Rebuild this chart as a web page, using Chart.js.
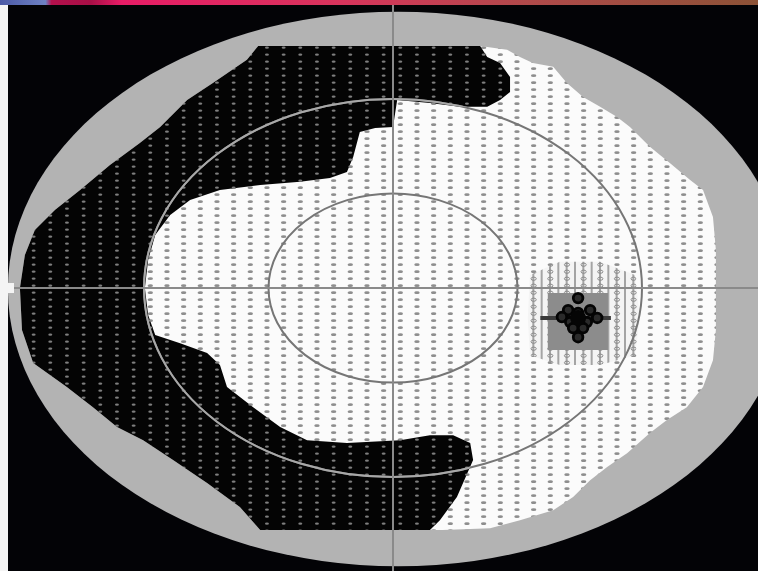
<!DOCTYPE html>
<html>
<head>
<meta charset="utf-8">
<script src="https://cdn.jsdelivr.net/npm/chart.js@4.4.1/dist/chart.umd.min.js"></script>
<style>
html,body{margin:0;padding:0;background:#000;}
#wrap{width:758px;height:571px;position:relative;}
</style>
</head>
<body>
<div id="wrap"><canvas id="field"></canvas></div>
<script>
// visual field plot, values are degrees from fixation
const xRange = [-94.7, 87.95]
const yRange = [-89.8, 91.4]
const crossTicks = [0]
const isopterDeg = [30, 60]
const fieldCenter = [1.2, -0.3]
const fieldRadius = [94, 88]

// outline of the tested area (seen + not seen)
const fieldX = [-32.5, 21.0, 27.5, 30.6, 33.7, 38.6, 41.9, 45.8, 49.9, 54.0, 57.1, 61.9, 66.7, 71.6, 74.7, 77.1, 77.8, 77.8, 77.1, 74.7, 70.8, 66.0, 61.9, 56.4, 51.6, 47.5, 43.4, 38.6, 30.6, 23.4, 12.0, 8.9, -32.0, -36.9, -44.8, -53.0, -60.2, -66.5, -72.3, -78.6, -86.7, -89.4, -89.9, -88.7, -86.3, -81.4, -75.4, -68.2, -61.0, -56.1, -49.6, -43.4, -35.2]
const fieldY = [76.8, 76.8, 75.6, 73.3, 71.4, 70.2, 65.1, 60.6, 57.5, 54.3, 51.1, 44.8, 39.7, 34.3, 31.1, 22.5, 12.1, -13.3, -22.9, -31.4, -37.8, -41.9, -46.0, -52.4, -56.8, -61.0, -66.3, -70.5, -73.7, -76.2, -76.8, -76.8, -76.8, -69.5, -61.9, -54.6, -48.3, -44.1, -37.8, -31.4, -23.8, -13.3, 0, 10.5, 18.4, 24.8, 31.1, 39.0, 46.0, 51.1, 59.7, 65.1, 72.4]

// scotoma (not seen)
const scotomaX = [-32.5, 21.0, 22.7, 25.8, 28.2, 28.2, 25.8, 22.7, 16.1, 8.9, 1.0, 0, -4.3, -8.0, -9.6, -11.1, -15.2, -22.4, -32.0, -41.7, -48.9, -53.7, -57.3, -59.0, -59.8, -59.0, -57.3, -51.3, -44.8, -41.7, -40.0, -33.7, -27.2, -20.7, -11.1, 1.7, 8.9, 14.5, 18.6, 19.3, 15.4, 11.3, 8.9, -32.0, -36.9, -44.8, -53.0, -60.2, -66.5, -72.3, -78.6, -86.7, -89.4, -89.9, -88.7, -86.3, -81.4, -75.4, -68.2, -61.0, -56.1, -49.6, -43.4, -35.2]
const scotomaY = [76.8, 76.8, 73.3, 71.4, 67.0, 62.2, 59.7, 57.5, 57.5, 58.7, 59.7, 51.1, 50.8, 49.5, 41.6, 36.8, 34.9, 33.7, 32.7, 31.1, 27.9, 23.2, 16.8, 8.9, 0, -8.6, -14.9, -17.5, -20.6, -24.4, -31.4, -37.8, -44.1, -48.3, -49.2, -48.3, -46.7, -46.7, -49.2, -54.6, -66.3, -73.7, -76.8, -76.8, -69.5, -61.9, -54.6, -48.3, -44.1, -37.8, -31.4, -23.8, -13.3, 0, 10.5, 18.4, 24.8, 31.1, 39.0, 46.0, 51.1, 59.7, 65.1, 72.4]

// blind spot area
const hatchX = [33.0, 40.2, 49.9, 58.3, 59.5, 58.3, 49.9, 40.2, 33.0, 32.5]
const hatchY = [4.1, 8.3, 8.3, 4.1, -9.5, -21.3, -24.4, -24.4, -21.3, -9.5]
const boxX = [37.3, 51.8, 51.8, 37.3]
const boxY = [-1.6, -1.6, -19.7, -19.7]
const barX = [35.5, 52.5]
const barY = [-9.5, -9.5]
const blobX = [44.6, 42.2, 47.5, 44.6, 40.7, 49.2, 42.7, 46.7, 43.4, 45.8, 44.6]
const blobY = [-3.2, -7.0, -7.0, -7.9, -9.2, -9.5, -10.8, -10.8, -12.7, -12.7, -15.6]
const coreX = [44.6]
const coreY = [-9.5]

function pts(xs, ys, close) {
  const p = xs.map((v, i) => ({x: v, y: ys[i]}))
  if (close) p.push({x: xs[0], y: ys[0]})
  return p
}

function dotPattern(bg, dot, rx, ry) {
  const c = document.createElement('canvas')
  c.width = 50; c.height = 21
  const g = c.getContext('2d')
  g.fillStyle = bg; g.fillRect(0, 0, 50, 21)
  g.fillStyle = dot
  for (let i = -1; i <= 3; i++) {
    for (let j = -1; j <= 3; j++) {
      g.beginPath()
      g.ellipse(i * 50 / 3 + 0.3, j * 7 + 5.7, rx, ry, 0, 0, Math.PI * 2)
      g.fill()
    }
  }
  return g.createPattern(c, 'repeat')
}

function hatchPattern() {
  const c = document.createElement('canvas')
  c.width = 50; c.height = 21
  const g = c.getContext('2d')
  g.fillStyle = '#f4f4f4'; g.fillRect(0, 0, 50, 21)
  g.fillStyle = '#a4a4a4'
  for (let k = 0; k <= 6; k++) g.fillRect(k * 50 / 6 - 1, 0, 2, 21)
  g.strokeStyle = '#8a8a8a'
  for (let i = -1; i <= 3; i++) {
    for (let j = -1; j <= 3; j++) {
      g.beginPath()
      g.ellipse(i * 50 / 3 + 0.3, j * 7 + 5.7, 2.6, 1.6, 0, 0, Math.PI * 2)
      g.stroke()
    }
  }
  return g.createPattern(c, 'repeat')
}

const seenFill = dotPattern('#fbfbfb', '#8e8e8e', 2.7, 1.4)
const blindFill = dotPattern('#040404', '#7e7e7e', 2.0, 1.1)

function ellipsePath(ctx, x, y, cx0, cy0, rX, rY) {
  const cx = x.getPixelForValue(cx0), cy = y.getPixelForValue(cy0)
  const rx = x.getPixelForValue(cx0 + rX) - cx
  const ry = cy - y.getPixelForValue(cy0 + rY)
  ctx.beginPath()
  ctx.ellipse(cx, cy, rx, ry, 0, 0, Math.PI * 2)
}

const drawBits = {
  id: 'drawBits',
  beforeDraw(chart) {
    const ctx = chart.ctx
    ctx.save()
    ctx.fillStyle = '#030306'
    ctx.fillRect(0, 0, chart.width, chart.height)
    ctx.restore()
  },
  beforeDatasetsDraw(chart) {
    const {ctx, scales: {x, y}} = chart
    ctx.save()
    ellipsePath(ctx, x, y, fieldCenter[0], fieldCenter[1], fieldRadius[0], fieldRadius[1])
    ctx.fillStyle = '#b3b3b3'
    ctx.fill()
    ctx.restore()
  },
  afterDatasetsDraw(chart) {
    const {ctx, scales: {x, y}} = chart
    ctx.save()
    ctx.lineWidth = 2
    ctx.strokeStyle = '#767676'
    isopterDeg.forEach(r => { ellipsePath(ctx, x, y, 0, 0, r, r); ctx.stroke() })
    // isopter looks light where it crosses the scotoma
    ctx.beginPath()
    scotomaX.forEach((v, i) => ctx.lineTo(x.getPixelForValue(v), y.getPixelForValue(scotomaY[i])))
    ctx.closePath()
    ctx.clip()
    ctx.strokeStyle = '#a8a8a8'
    isopterDeg.forEach(r => { ellipsePath(ctx, x, y, 0, 0, r, r); ctx.stroke() })
    ctx.restore()
  },
  afterDraw(chart) {
    const ctx = chart.ctx
    ctx.save()
    const gr = ctx.createLinearGradient(0, 0, chart.width, 0)
    gr.addColorStop(0, '#4c5aa6')
    gr.addColorStop(0.06, '#6f82c4')
    gr.addColorStop(0.068, '#b4104c')
    gr.addColorStop(0.12, '#a80f46')
    gr.addColorStop(0.16, '#e81c66')
    gr.addColorStop(0.45, '#d8345c')
    gr.addColorStop(0.7, '#b04a4a')
    gr.addColorStop(1, '#8c5236')
    ctx.fillStyle = gr
    ctx.fillRect(0, 0, chart.width, 5)
    ctx.fillStyle = '#f4f4f4'
    ctx.fillRect(0, 5, 8, chart.height - 5)
    ctx.fillRect(0, chart.scales.y.getPixelForValue(0) - 5, 14, 10)
    ctx.restore()
  }
}

const crossScale = (extra) => Object.assign({
  type: 'linear',
  border: {display: false},
  ticks: {display: false},
  grid: {color: '#8a8a8a', lineWidth: 2, drawTicks: false, z: 1},
  afterBuildTicks: a => { a.ticks = crossTicks.map(v => ({value: v})) }
}, extra)

new Chart(document.getElementById('field'), {
  type: 'line',
  data: {
    datasets: [
      {data: pts(fieldX, fieldY, true), fill: 'shape', backgroundColor: seenFill, borderWidth: 0, pointRadius: 0, order: 6},
      {data: pts(scotomaX, scotomaY, true), fill: 'shape', backgroundColor: blindFill, borderWidth: 0, pointRadius: 0, order: 5},
      {data: pts(hatchX, hatchY, true), fill: 'shape', backgroundColor: hatchPattern(), borderWidth: 0, pointRadius: 0, order: 4},
      {data: pts(boxX, boxY, true), fill: 'shape', backgroundColor: '#8c8c8c', borderWidth: 0, pointRadius: 0, order: 3},
      {data: pts(barX, barY, false), borderColor: '#3a3a3a', borderWidth: 4, pointRadius: 0, order: 2},
      {data: pts(blobX, blobY, false), showLine: false, pointRadius: 4.8, pointBorderWidth: 2.8, pointBorderColor: '#040404', pointBackgroundColor: '#2a2a2a', order: 1},
      {data: pts(coreX, coreY, false), showLine: false, pointRadius: 8, pointBorderWidth: 0, pointBackgroundColor: '#050505', order: 0}
    ]
  },
  options: {
    responsive: true,
    maintainAspectRatio: false,
    animation: false,
    layout: {padding: 0, autoPadding: false},
    plugins: {legend: {display: false}, tooltip: {enabled: false}},
    elements: {line: {tension: 0}},
    scales: {
      x: crossScale({min: xRange[0], max: xRange[1]}),
      y: crossScale({min: yRange[0], max: yRange[1]})
    }
  },
  plugins: [drawBits]
})
</script>
</body>
</html>
